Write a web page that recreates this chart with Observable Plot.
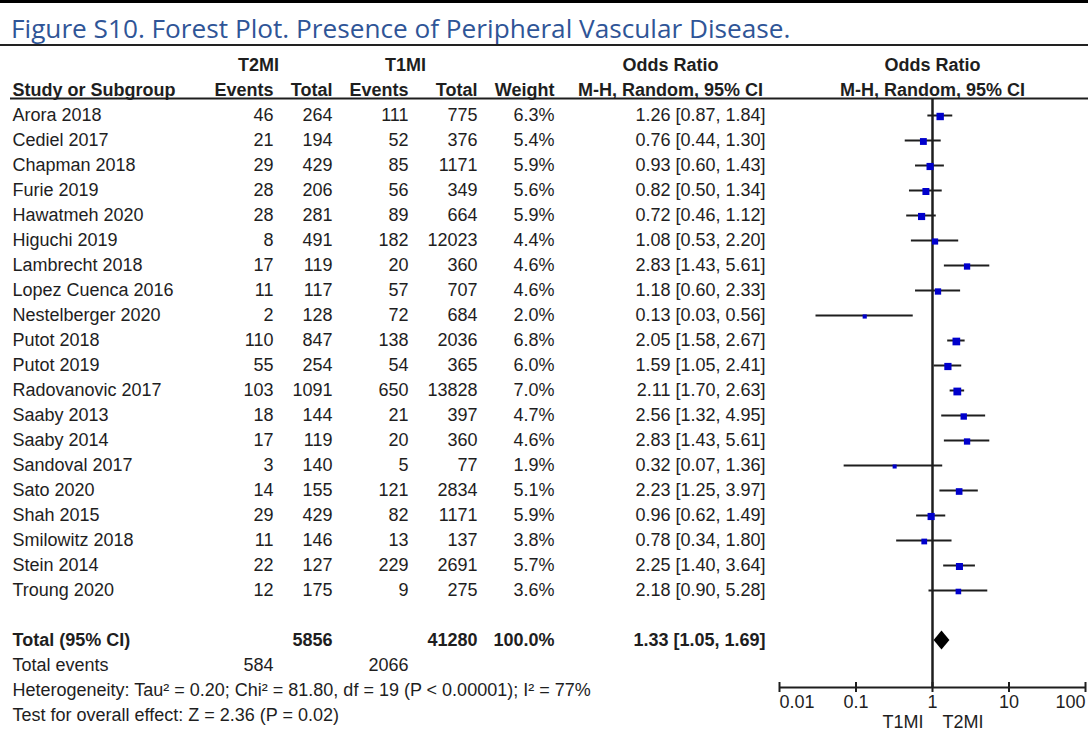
<!DOCTYPE html>
<html><head><meta charset="utf-8">
<script src="https://cdn.jsdelivr.net/npm/d3@7"></script>
<script src="https://cdn.jsdelivr.net/npm/@observablehq/plot@0.6"></script>
<style>
html,body{margin:0;padding:0;background:#fff;}
#title{box-sizing:border-box;width:1088px;height:46px;border-top:3px solid #000;border-bottom:2px solid #222;font-family:"Open Sans";font-size:26.2px;color:#2f5597;padding-left:11px;padding-top:10px;line-height:31px;white-space:nowrap;overflow:hidden;}
#chart svg{display:block;}
</style></head><body>
<div id="title">Figure S10. Forest Plot. Presence of Peripheral Vascular Disease.</div>
<div id="chart"></div>
<script>
// ---- data ----
const studies = ["Arora 2018","Cediel 2017","Chapman 2018","Furie 2019","Hawatmeh 2020","Higuchi 2019","Lambrecht 2018","Lopez Cuenca 2016","Nestelberger 2020","Putot 2018","Putot 2019","Radovanovic 2017","Saaby 2013","Saaby 2014","Sandoval 2017","Sato 2020","Shah 2015","Smilowitz 2018","Stein 2014","Troung 2020"];
const t2miEvents = [46,21,29,28,28,8,17,11,2,110,55,103,18,17,3,14,29,11,22,12];
const t2miTotal = [264,194,429,206,281,491,119,117,128,847,254,1091,144,119,140,155,429,146,127,175];
const t1miEvents = [111,52,85,56,89,182,20,57,72,138,54,650,21,20,5,121,82,13,229,9];
const t1miTotal = [775,376,1171,349,664,12023,360,707,684,2036,365,13828,397,360,77,2834,1171,137,2691,275];
const weight = [6.3,5.4,5.9,5.6,5.9,4.4,4.6,4.6,2.0,6.8,6.0,7.0,4.7,4.6,1.9,5.1,5.9,3.8,5.7,3.6];
const oddsRatio = [1.26,0.76,0.93,0.82,0.72,1.08,2.83,1.18,0.13,2.05,1.59,2.11,2.56,2.83,0.32,2.23,0.96,0.78,2.25,2.18];
const ciLow = [0.87,0.44,0.60,0.50,0.46,0.53,1.43,0.60,0.03,1.58,1.05,1.70,1.32,1.43,0.07,1.25,0.62,0.34,1.40,0.90];
const ciHigh = [1.84,1.30,1.43,1.34,1.12,2.20,5.61,2.33,0.56,2.67,2.41,2.63,4.95,5.61,1.36,3.97,1.49,1.80,3.64,5.28];
const totalLabel = "Total (95% CI)";
const totalParticipants = [5856, 41280];
const totalWeight = "100.0%";
const pooledOR = [1.33, 1.05, 1.69];
const totalEventsLabel = "Total events";
const totalEvents = [584, 2066];
const heterogeneityText = "Heterogeneity: Tau² = 0.20; Chi² = 81.80, df = 19 (P < 0.00001); I² = 77%";
const overallEffectText = "Test for overall effect: Z = 2.36 (P = 0.02)";
const groupHeaders = ["T2MI","T1MI","Odds Ratio","Odds Ratio"];
const columnHeaders = ["Study or Subgroup","Events","Total","Events","Total","Weight","M-H, Random, 95% CI","M-H, Random, 95% CI"];
const axisTicks = [0.01, 0.1, 1, 10, 100];
const favourLabels = ["T1MI", "T2MI"];

// ---- layout (not data) ----
const W = 1088, H = 691, ML = 10;
const rowOf = {header1: -2, header2: -1, headerLine: -0.68, total: 21, totalEvents: 22, het: 23, test: 24, axis: 22.88};
const col = {name: 12, e2: 273, n2: 332, e1: 408, n1: 477, w: 554, ci: 765, ciMid: 670, t2Mid: 258, t1Mid: 405};
const FS = 18, INK = "#1e1e1e";

const fmtCI = (o, l, h) => `${o.toFixed(2)} [${l.toFixed(2)}, ${h.toFixed(2)}]`;
const rows = studies.map((s, i) => ({
  study: s, row: i, e2: String(t2miEvents[i]), n2: String(t2miTotal[i]), e1: String(t1miEvents[i]), n1: String(t1miTotal[i]),
  w: weight[i], or: oddsRatio[i], lo: ciLow[i], hi: ciHigh[i],
  ci: fmtCI(oddsRatio[i], ciLow[i], ciHigh[i]), wt: weight[i].toFixed(1) + "%"
}));

const colText = (data, y, text, x, anchor, extra = {}) =>
  Plot.text(data, {y, text, frameAnchor: "left", dx: x - ML, textAnchor: anchor, fill: INK, fontSize: FS, ...extra});

const bold = {fontWeight: "bold"};
const one = [0];
const half = 0.38;
const diamond = [
  {x: pooledOR[1], y1: rowOf.total, y2: rowOf.total},
  {x: pooledOR[0], y1: rowOf.total - half, y2: rowOf.total + half},
  {x: pooledOR[2], y1: rowOf.total, y2: rowOf.total}
];
const tickLabel = d => String(d);
const axisText = (ticks, anchor) => Plot.axisX({ticks, tickSize: 0, tickPadding: 8, tickFormat: tickLabel, fontSize: FS, label: null, fill: INK, textAnchor: anchor});

const chart = Plot.plot({
  width: W, height: H,
  marginTop: 52, marginBottom: 50, marginLeft: ML, marginRight: 0,
  style: {fontFamily: "'Liberation Sans', Arial, sans-serif", fontSize: FS + "px", color: INK, background: "#fff"},
  x: {type: "log", domain: [axisTicks[0], axisTicks[axisTicks.length - 1]], range: [779, 1085]},
  y: {domain: [rowOf.headerLine, rowOf.axis], reverse: true, axis: null},
  r: {type: "sqrt", domain: [0, 7], range: [0, 4.4]},
  marks: [
    // headers
    colText(one, () => rowOf.header1, () => groupHeaders[0], col.t2Mid, "middle", bold),
    colText(one, () => rowOf.header1, () => groupHeaders[1], col.t1Mid, "middle", bold),
    colText(one, () => rowOf.header1, () => groupHeaders[2], col.ciMid, "middle", bold),
    Plot.text(one, {x: () => 1, y: () => rowOf.header1, text: () => groupHeaders[3], fill: INK, fontSize: FS, fontWeight: "bold"}),
    colText(one, () => rowOf.header2, () => columnHeaders[0], col.name, "start", bold),
    colText(one, () => rowOf.header2, () => columnHeaders[1], col.e2, "end", bold),
    colText(one, () => rowOf.header2, () => columnHeaders[2], col.n2, "end", bold),
    colText(one, () => rowOf.header2, () => columnHeaders[3], col.e1, "end", bold),
    colText(one, () => rowOf.header2, () => columnHeaders[4], col.n1, "end", bold),
    colText(one, () => rowOf.header2, () => columnHeaders[5], col.w, "end", bold),
    colText(one, () => rowOf.header2, () => columnHeaders[6], col.ciMid, "middle", bold),
    Plot.text(one, {x: () => 1, y: () => rowOf.header2, text: () => columnHeaders[7], fill: INK, fontSize: FS, fontWeight: "bold"}),
    Plot.ruleY([rowOf.headerLine], {stroke: INK, strokeWidth: 2}),
    // study rows
    colText(rows, "row", "study", col.name, "start"),
    colText(rows, "row", "e2", col.e2, "end"),
    colText(rows, "row", "n2", col.n2, "end"),
    colText(rows, "row", "e1", col.e1, "end"),
    colText(rows, "row", "n1", col.n1, "end"),
    colText(rows, "row", "wt", col.w, "end"),
    colText(rows, "row", "ci", col.ci, "end"),
    // totals
    colText(one, () => rowOf.total, () => totalLabel, col.name, "start", bold),
    colText(one, () => rowOf.total, () => String(totalParticipants[0]), col.n2, "end", bold),
    colText(one, () => rowOf.total, () => String(totalParticipants[1]), col.n1, "end", bold),
    colText(one, () => rowOf.total, () => totalWeight, col.w, "end", bold),
    colText(one, () => rowOf.total, () => fmtCI(...pooledOR), col.ci, "end", bold),
    colText(one, () => rowOf.totalEvents, () => totalEventsLabel, col.name, "start"),
    colText(one, () => rowOf.totalEvents, () => String(totalEvents[0]), col.e2, "end"),
    colText(one, () => rowOf.totalEvents, () => String(totalEvents[1]), col.e1, "end"),
    colText(one, () => rowOf.het, () => heterogeneityText, col.name, "start"),
    colText(one, () => rowOf.test, () => overallEffectText, col.name, "start"),
    // forest
    Plot.ruleY(rows, {y: "row", x1: "lo", x2: "hi", stroke: INK, strokeWidth: 2}),
    Plot.ruleX([1], {stroke: INK, strokeWidth: 2.5}),
    Plot.dot(rows, {x: "or", y: "row", r: "w", symbol: "square", fill: "#0000cc", stroke: null, dy: 1}),
    Plot.areaY(diamond, {x: "x", y1: "y1", y2: "y2", fill: "#000"}),
    // axis
    Plot.ruleY([rowOf.axis], {x1: axisTicks[0], x2: axisTicks[axisTicks.length - 1], stroke: INK, strokeWidth: 2}),
    Plot.ruleX(axisTicks, {y1: rowOf.axis, y2: rowOf.axis, insetTop: -5, insetBottom: -5, stroke: INK, strokeWidth: 2}),
    axisText(axisTicks.slice(0, 1), "start"),
    axisText(axisTicks.slice(1, -1), "middle"),
    axisText(axisTicks.slice(-1), "end"),
    Plot.text([favourLabels[0]], {x: () => 1, frameAnchor: "bottom", dy: 40, dx: -9, textAnchor: "end", text: d => d, fill: INK, fontSize: FS}),
    Plot.text([favourLabels[1]], {x: () => 1, frameAnchor: "bottom", dy: 40, dx: 10, textAnchor: "start", text: d => d, fill: INK, fontSize: FS})
  ]
});
document.getElementById("chart").appendChild(chart);
</script>
</body></html>
